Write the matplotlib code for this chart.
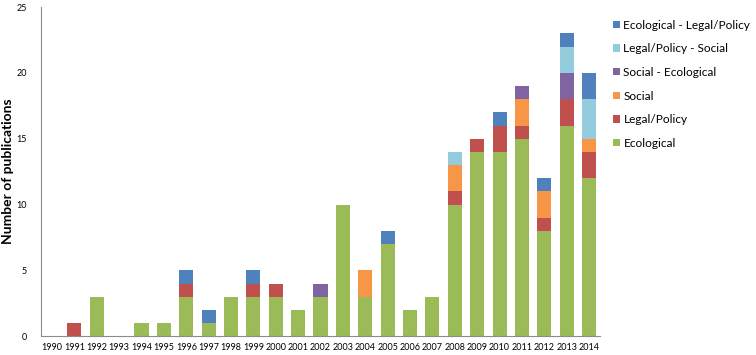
import matplotlib
matplotlib.use("Agg")
import matplotlib.pyplot as plt
import numpy as np

plt.rcParams["font.family"] = ["Lato", "DejaVu Sans"]

years = [str(y) for y in range(1990, 2015)]

ecological = [0, 0, 3, 0, 1, 1, 3, 1, 3, 3, 3, 2, 3, 10, 3, 7, 2, 3, 10, 14, 14, 15, 8, 16, 12]
legal_policy = [0, 1, 0, 0, 0, 0, 1, 0, 0, 1, 1, 0, 0, 0, 0, 0, 0, 0, 1, 1, 2, 1, 1, 2, 2]
social = [0, 0, 0, 0, 0, 0, 0, 0, 0, 0, 0, 0, 0, 0, 2, 0, 0, 0, 2, 0, 0, 2, 2, 0, 1]
social_ecological = [0, 0, 0, 0, 0, 0, 0, 0, 0, 0, 0, 0, 1, 0, 0, 0, 0, 0, 0, 0, 0, 1, 0, 2, 0]
legal_social = [0, 0, 0, 0, 0, 0, 0, 0, 0, 0, 0, 0, 0, 0, 0, 0, 0, 0, 1, 0, 0, 0, 0, 2, 3]
eco_legal = [0, 0, 0, 0, 0, 0, 1, 1, 0, 1, 0, 0, 0, 0, 0, 1, 0, 0, 0, 0, 1, 0, 1, 1, 2]

series = [
    ("Ecological", ecological, "#9BBB59"),
    ("Legal/Policy", legal_policy, "#C0504D"),
    ("Social", social, "#F79646"),
    ("Social - Ecological", social_ecological, "#8064A2"),
    ("Legal/Policy - Social", legal_social, "#93CDDD"),
    ("Ecological - Legal/Policy", eco_legal, "#4F81BD"),
]

fig = plt.figure(figsize=(7.56, 3.55), dpi=100)
ax = fig.add_axes([0.054, 0.053, 0.74, 0.927])

x = np.arange(len(years))
bottom = np.zeros(len(years))
handles = []
for label, values, color in series:
    vals = np.array(values, dtype=float)
    h = ax.bar(x, vals, width=0.63, bottom=bottom, color=color, label=label)
    handles.append(h)
    bottom += vals

ax.set_xlim(-0.5, len(years) - 0.5)
ax.set_ylim(0, 25)
ax.set_yticks(range(0, 26, 5))
ax.set_xticks(x)
ax.set_xticklabels(years, fontsize=6.5)
ax.tick_params(axis="y", labelsize=6.5, length=0, pad=10)
ax.tick_params(axis="x", length=0, pad=5)
ax.set_ylabel("Number of publications", fontsize=10, fontweight="bold")
ax.yaxis.set_label_coords(-0.048, 0.5)

for side in ["top", "right"]:
    ax.spines[side].set_visible(False)
for side in ["left", "bottom"]:
    ax.spines[side].set_color("#8c8c8c")
    ax.spines[side].set_linewidth(0.8)

fig.legend(
    handles[::-1],
    [s[0] for s in series][::-1],
    loc="upper left",
    bbox_to_anchor=(0.797, 0.975),
    frameon=False,
    fontsize=8.6,
    handlelength=0.55,
    handleheight=0.55,
    handletextpad=0.3,
    labelspacing=1.06,
)

fig.savefig("out.png", dpi=100)
